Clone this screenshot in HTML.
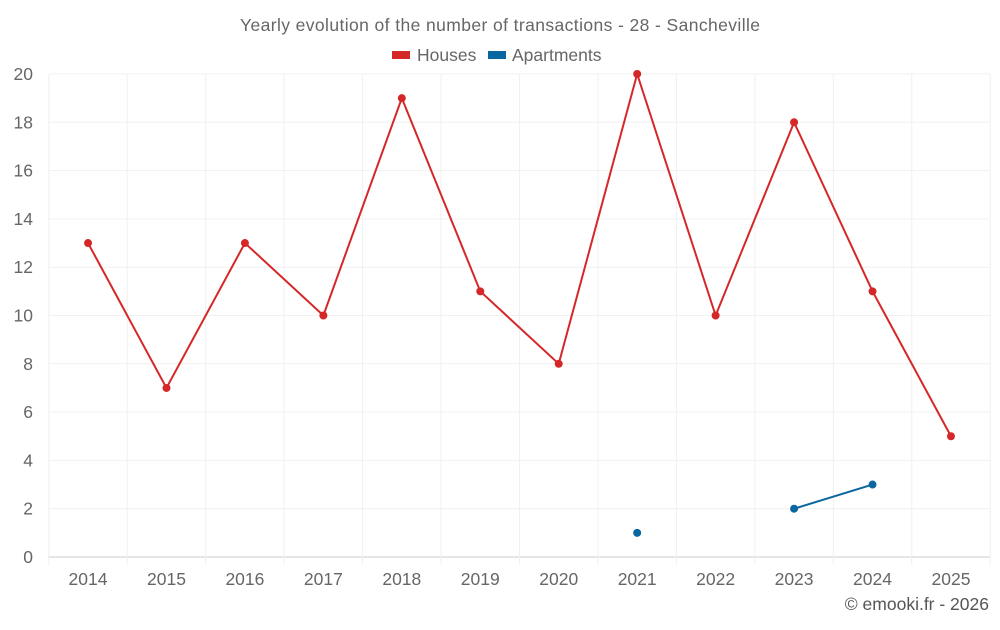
<!DOCTYPE html>
<html><head><meta charset="utf-8"><style>
body{margin:0;background:#fff;font-family:"Liberation Sans",sans-serif}
</style></head><body>
<svg id="chart" width="1000" height="625" xmlns="http://www.w3.org/2000/svg" font-family="Liberation Sans, sans-serif">
<text x="500" y="31" text-anchor="middle" font-size="17.5" fill="#666" textLength="520">Yearly evolution of the number of transactions - 28 - Sancheville</text>
<g><rect x="392" y="51" width="18" height="8" fill="#d62728"/><text x="417" y="61" font-size="17.5" fill="#666">Houses</text></g>
<g><rect x="488" y="51" width="18" height="8" fill="#0a66a0"/><text x="512" y="61" font-size="17.5" fill="#666">Apartments</text></g>
<g id="grid"></g>
<g id="axes"></g>
<g id="series"></g>
<text x="989" y="610" text-anchor="end" font-size="17.5" fill="#555">© emooki.fr - 2026</text>
</svg>
<script>
const categories=["2014","2015","2016","2017","2018","2019","2020","2021","2022","2023","2024","2025"];
const houses=[13,7,13,10,19,11,8,20,10,18,11,5];
const apartments=[null,null,null,null,null,null,null,1,null,2,3,null];
const yTicks=[0,2,4,6,8,10,12,14,16,18,20];
const NS="http://www.w3.org/2000/svg";
const L=48.8,R=990.2,T=74,B=557,yMax=20;
const bw=(R-L)/categories.length;
const x=i=>L+bw*(i+0.5);
const y=v=>B-(v/yMax)*(B-T);
function mk(tag,attrs,parent){const e=document.createElementNS(NS,tag);for(const k in attrs)e.setAttribute(k,attrs[k]);parent.appendChild(e);return e;}
const grid=document.getElementById('grid'),axes=document.getElementById('axes'),ser=document.getElementById('series');
yTicks.forEach(t=>{
 const l=mk('line',{x1:L,x2:R,y1:y(t),y2:y(t),stroke:t===0?'#ccc':'#f0f0f0'},grid);
 
 
 const tx=mk('text',{x:33,y:y(t)+6,'text-anchor':'end','font-size':17.5,fill:'#666'},axes);
 tx.textContent=t;
 
 
});
for(let i=0;i<=categories.length;i++){
 const gx=L+bw*i;
 const l=mk('line',{x1:gx,x2:gx,y1:T,y2:B+8,stroke:'#f0f0f0'},grid);
 
 
}
categories.forEach((c,i)=>{
 const tx=mk('text',{x:x(i),y:585,'text-anchor':'middle','font-size':17.5,fill:'#666'},axes);
 tx.textContent=c;
 
 
});
function draw(data,color,name){
 let seg=[];const segs=[];
 data.forEach((v,i)=>{if(v===null){if(seg.length)segs.push(seg);seg=[];}else seg.push([x(i),y(v)]);});
 if(seg.length)segs.push(seg);
 segs.forEach(s=>{if(s.length>1){const p=mk('polyline',{points:s.map(q=>q.join(',')).join(' '),fill:'none',stroke:color,'stroke-width':2},ser);
  
  }});
 data.forEach((v,i)=>{if(v===null)return;const c=mk('circle',{cx:x(i),cy:y(v),r:4,fill:color},ser);
  
  });
}
draw(houses,'#d62728','houses');
draw(apartments,'#0a66a0','apartments');
</script>
</body></html>
